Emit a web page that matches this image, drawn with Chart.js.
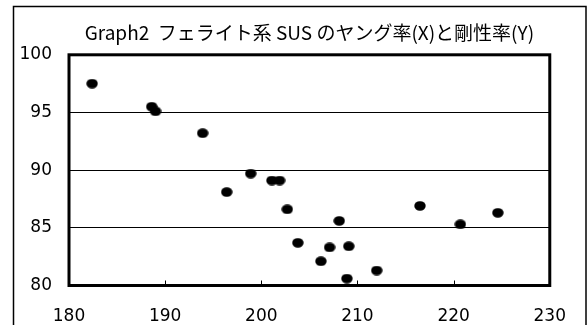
<!DOCTYPE html>
<html>
<head>
<meta charset="utf-8">
<script src="https://cdn.jsdelivr.net/npm/chart.js@4"></script>
<style>
  body { margin: 0; background: #fff; }
  canvas { display: block; }
</style>
</head>
<body>
<canvas id="myChart" width="587" height="325"></canvas>
<script>
`use strict`;

// ヤング率 (X) と 剛性率 (Y) の値
const titleText = "Graph2  フェライト系 SUS のヤング率(X)と剛性率(Y)";
const youngX = [182.4, 188.6, 189.0, 193.9, 196.4, 198.9, 201.1, 201.9, 202.7, 203.8,
  208.1, 207.1, 209.1, 206.2, 212.0, 208.9, 216.5, 220.7, 224.6];
const rigidY = [97.5, 95.5, 95.1, 93.2, 88.1, 89.7, 89.1, 89.1, 86.6, 83.7,
  85.6, 83.3, 83.4, 82.1, 81.3, 80.6, 86.9, 85.3, 86.3];
const xTicks = [180, 190, 200, 210, 220, 230];
const yTicks = [80, 85, 90, 95, 100];

const points = youngX.map((x, i) => ({ x: x, y: rigidY[i] }));

// marker: slightly flat black ellipse
const dot = document.createElement("canvas");
dot.width = 12;
dot.height = 10;
const dctx = dot.getContext("2d");
dctx.fillStyle = "#000";
dctx.beginPath();
dctx.ellipse(6, 5, 5.7, 4.8, 0, 0, Math.PI * 2);
dctx.fill();

// outer frame + thick plot frame + small inner ticks on x axis
const framePlugin = {
  id: "frames",
  beforeDraw(chart) {
    const ctx = chart.ctx;
    ctx.save();
    ctx.fillStyle = "#fff";
    ctx.fillRect(0, 0, chart.width, chart.height);
    ctx.strokeStyle = "#000";
    ctx.lineWidth = 1.5;
    ctx.strokeRect(13.5, 6.5, 572.5, 330);
    ctx.restore();
  },
  afterDatasetsDraw(chart) {
    const ctx = chart.ctx;
    const a = chart.chartArea;
    const xs = chart.scales.x;
    ctx.save();
    ctx.strokeStyle = "#000";
    ctx.lineWidth = 1;
    xTicks.slice(1, -1).forEach((v) => {
      const px = Math.round(xs.getPixelForValue(v)) + 0.5;
      ctx.beginPath();
      ctx.moveTo(px, a.bottom);
      ctx.lineTo(px, a.bottom - 5);
      ctx.stroke();
    });
    ctx.lineWidth = 3;
    ctx.strokeRect(a.left, a.top, a.right - a.left, a.bottom - a.top);
    ctx.restore();
  },
};

const ctx = document.getElementById("myChart");

new Chart(ctx, {
  type: "scatter",
  data: {
    datasets: [
      {
        data: points,
        pointStyle: dot,
        pointRadius: 6,
        backgroundColor: "#000",
        borderColor: "#000",
      },
    ],
  },
  options: {
    responsive: false,
    animation: false,
    layout: { padding: { left: 0, right: 32, top: 0, bottom: 0 } },
    plugins: {
      legend: { display: false },
      tooltip: { enabled: false },
      title: {
        display: true,
        fullSize: false,
        text: titleText,
        color: "#000",
        font: { family: "'Noto Sans CJK JP'", size: 19, weight: "normal", lineHeight: 1.2 },
        padding: { top: 21, bottom: 11 },
      },
    },
    scales: {
      x: {
        type: "linear",
        min: 180,
        max: 230,
        afterBuildTicks: (s) => { s.ticks = xTicks.map((v) => ({ value: v })); },
        afterFit: (s) => { s.height = 39.5; },
        grid: { display: false, drawTicks: false },
        border: { display: false },
        ticks: {
          color: "#000",
          padding: 21,
          maxRotation: 0,
          font: { family: "DejaVu Sans, sans-serif", size: 17 },
        },
      },
      y: {
        type: "linear",
        min: 80,
        max: 100,
        afterBuildTicks: (s) => { s.ticks = yTicks.map((v) => ({ value: v })); },
        afterFit: (s) => { s.width = 69; },
        grid: { color: "#000", lineWidth: 1, drawTicks: false },
        border: { display: false },
        ticks: {
          color: "#000",
          padding: 17,
          font: { family: "DejaVu Sans, sans-serif", size: 17 },
        },
      },
    },
  },
  plugins: [framePlugin],
});
</script>
</body>
</html>
